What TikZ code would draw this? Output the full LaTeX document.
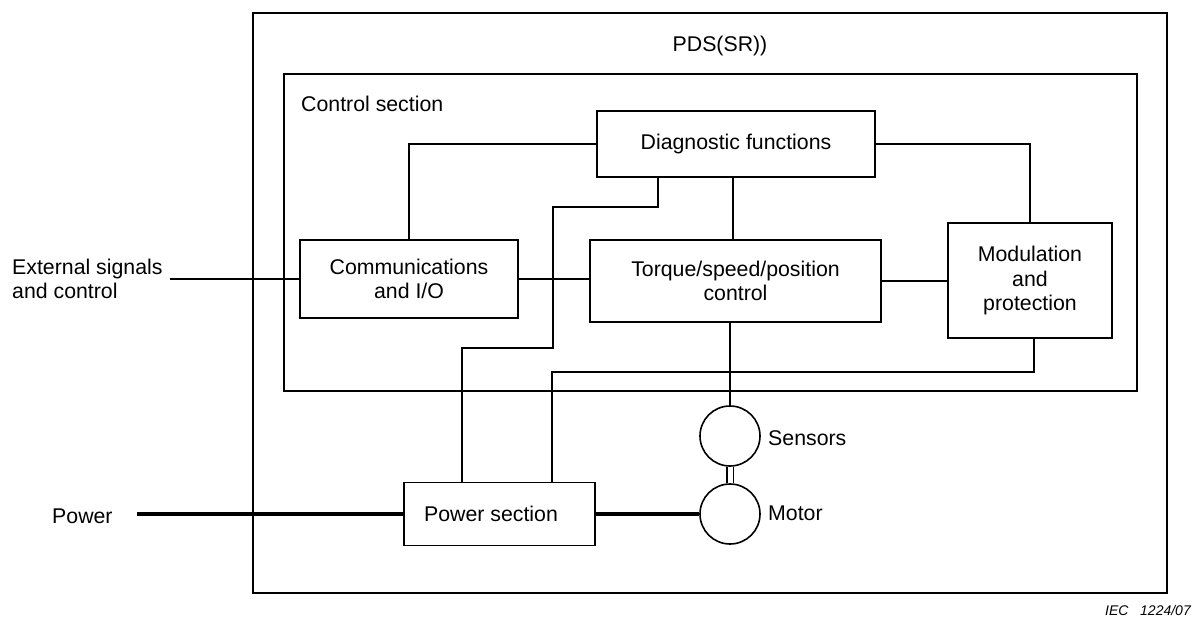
\documentclass[tikz,border=0pt]{standalone}
\usepackage{fontspec}
\setmainfont{Liberation Sans}
\usetikzlibrary{positioning}
\newcommand\mainfs{\fontsize{21.3}{24.5}\selectfont}
\newcommand\notefs{\fontsize{14}{16}\selectfont\itshape}
\tikzset{
  frame/.style={draw, rectangle, line width=1.6pt, inner sep=0pt},
  blk/.style={draw, rectangle, line width=1.6pt, inner sep=0pt, align=center, font=\mainfs},
  circ/.style={draw, circle, line width=1.6pt, inner sep=0pt, minimum size=60pt},
  lab/.style={inner sep=0pt, font=\mainfs},
  wire/.style={line width=1.6pt},
  powerwire/.style={line width=4pt},
}
\begin{document}
\begin{tikzpicture}[x=1pt, y=-1pt]
\useasboundingbox (0,0) rectangle (1192,618);

% enclosing frames
\node[frame, minimum width=914pt, minimum height=580pt] (pds) at (710,303) {};
\node[frame, minimum width=853pt, minimum height=317pt] (ctrl) at (710.5,232.5) {};
\node[lab] (pdslab) at (720,46) {PDS(SR))};
\node[lab, anchor=west] (ctrllab) at (301,104) {Control section};

% function blocks
\node[blk, minimum width=278pt, minimum height=66pt] (diag) at (736,144) {Diagnostic functions};
\node[blk, minimum width=218pt, minimum height=78pt] (comm) at (409,279) {Communications\\and I/O};
\node[blk, minimum width=291pt, minimum height=82pt] (torque) at (735.5,281) {Torque/speed/position\\control};
\node[blk, minimum width=164pt, minimum height=115pt] (mod) at (1030,280.5) {Modulation\\and\\protection};
\node[draw, rectangle, line width=1.6pt, minimum width=191pt, minimum height=63pt] (power) at (499.5,514) {};
\node[lab] (powerlab) at (491,514) {Power section};

% sensors and motor
\node[circ] (sens) at (730,436) {};
\node[circ] (motor) at (730,514) {};
\node[lab, anchor=west] (senslab) at (768,438) {Sensors};
\node[lab, anchor=west] (motorlab) at (768,513) {Motor};

% outside labels
\node[lab, anchor=west, align=left] (extlab) at (12,279) {External signals\\and control};
\node[lab, anchor=west] (pwrlab) at (52,516) {Power};
\node[inner sep=0pt, font=\notefs, anchor=east] (iec) at (1191,610) {IEC\ \ \ 1224/07};

% bend points of the signal buses
\coordinate (b1) at (658,207);
\coordinate (b2) at (553,348);
\coordinate (b3) at (462,0);
\coordinate (b4) at (1034,372);
\coordinate (b5) at (552,0);
\coordinate (b7) at (733,0);
\coordinate (ext) at (170,279);
\coordinate (pin) at (137,514);

% signal connections
\draw[wire] (diag.west) -| (comm.north);
\draw[wire] (diag.east) -| (mod.north);
\draw[wire] (diag.south -| b7) -- (torque.north -| b7);
\draw[wire] (diag.south -| b1) -- (b1) -| (b2) -| (power.north -| b3);
\draw[wire] (mod.south -| b4) -- (b4) -| (power.north -| b5);
\draw[wire] (comm.east) -- (torque.west |- comm.east);
\draw[wire] (torque.east) -- (mod.west |- torque.east);
\draw[wire] (ext) -- (comm.west);
\draw[wire] (torque.south -| sens.north) -- (sens.north);

% shaft between sensors and motor
\draw[wire] ([xshift=-3.3pt]sens.south) -- ([xshift=-3.3pt]motor.north);
\draw[wire] ([xshift=3.3pt]sens.south) -- ([xshift=3.3pt]motor.north);

% power path
\draw[powerwire] (pin) -- (power.west);
\draw[powerwire] (power.east) -- (motor.west);
\end{tikzpicture}
\end{document}
